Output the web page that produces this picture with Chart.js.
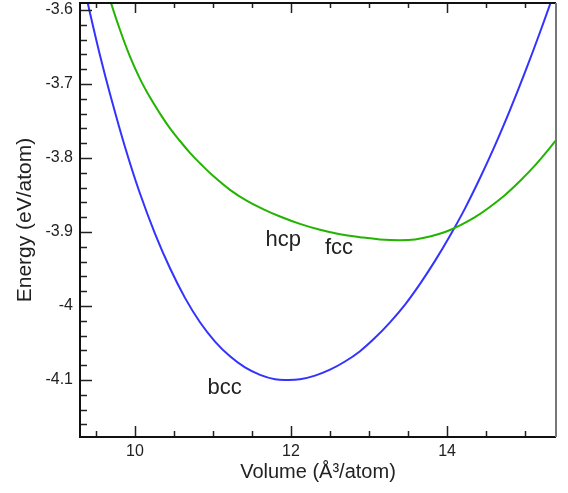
<!DOCTYPE html>
<html>
<head>
<meta charset="utf-8">
<script src="https://cdn.jsdelivr.net/npm/chart.js@4/dist/chart.umd.min.js"></script>
<style>
  html, body { margin: 0; padding: 0; background: #fff; }
  canvas { display: block; }
</style>
</head>
<body>
<canvas id="ev" width="568" height="493"></canvas>
<script>
// ── DATA ─────────────────────────────────────────────────────────

// bcc curve, volume (Å³/atom) vs energy (eV/atom)
const bccVolume = [9.295, 9.423, 9.551, 9.679, 9.872, 10.064, 10.256, 10.449, 10.641, 10.833,
  11.026, 11.218, 11.410, 11.603, 11.795, 11.949, 12.115, 12.308, 12.500, 12.692,
  12.885, 13.077, 13.269, 13.462, 13.654, 13.846, 14.038, 14.231, 14.423, 14.615,
  14.808, 15.000, 15.192, 15.385, 15.513];
const bccEnergy = [-3.543, -3.604, -3.661, -3.713, -3.785, -3.848, -3.902, -3.949, -3.989, -4.022,
  -4.048, -4.068, -4.083, -4.093, -4.099, -4.100, -4.099, -4.094, -4.086, -4.075,
  -4.061, -4.043, -4.022, -3.998, -3.970, -3.939, -3.905, -3.868, -3.827, -3.783,
  -3.735, -3.684, -3.630, -3.573, -3.533];

// hcp / fcc curve (the two lie on top of each other)
const hcpVolume = [9.603, 9.679, 9.808, 9.936, 10.064, 10.192, 10.321, 10.449, 10.577, 10.705,
  10.833, 11.000, 11.218, 11.436, 11.641, 11.859, 12.115, 12.372, 12.628, 12.885,
  13.141, 13.397, 13.590, 13.782, 13.974, 14.167, 14.359, 14.551, 14.744, 14.936,
  15.128, 15.321, 15.513];
const hcpEnergy = [-3.559, -3.586, -3.627, -3.663, -3.693, -3.718, -3.740, -3.760, -3.777, -3.793,
  -3.807, -3.824, -3.843, -3.858, -3.869, -3.879, -3.889, -3.897, -3.903, -3.907,
  -3.910, -3.911, -3.910, -3.906, -3.900, -3.891, -3.880, -3.866, -3.850, -3.831,
  -3.810, -3.786, -3.760];

const volumeTicks = [10, 12, 14];
const energyTicks = [-4.1, -4.0, -3.9, -3.8, -3.7, -3.6];

// phase names written next to the curves
const phaseNames  = ['hcp', 'fcc', 'bcc'];
const phaseVolume = [11.90, 12.615, 11.15];
const phaseEnergy = [-3.911, -3.9216, -4.111];

// ── HELPERS ──────────────────────────────────────────────────────

const FONT = '"Liberation Sans", Arial, Helvetica, sans-serif';
const INK = '#222';

function pts(xs, ys) {
  return xs.map((x, i) => ({ x, y: ys[i] }));
}

function fmtTick(v) {
  return String(+Number(v).toFixed(2));
}

// frame + inward tick marks (majors and minors)
const frameTicks = {
  id: 'frameTicks',
  afterDraw(chart) {
    const { ctx, chartArea: a, scales: { x, y } } = chart;
    ctx.save();
    ctx.lineCap = 'butt';

    ctx.strokeStyle = '#222';
    ctx.lineWidth = 1.5;
    ctx.beginPath();
    for (let v = Math.ceil(x.min * 2) / 2; v <= x.max; v += 0.5) {
      const px = Math.round(x.getPixelForValue(v)) + 0.5;
      const len = volumeTicks.includes(v) ? 11 : 6;
      ctx.moveTo(px, a.bottom); ctx.lineTo(px, a.bottom - len);
      ctx.moveTo(px, a.top);    ctx.lineTo(px, a.top + len - 1);
    }
    for (let i = Math.ceil(y.min * 50); i <= Math.floor(y.max * 50); i++) {
      const py = Math.round(y.getPixelForValue(i / 50)) + 0.5;
      const len = (i % 5 === 0) ? 12 : 7;
      ctx.moveTo(a.left, py); ctx.lineTo(a.left + len, py);
    }
    ctx.stroke();

    // frame
    ctx.lineWidth = 2;
    ctx.strokeStyle = '#111';
    ctx.beginPath();
    ctx.moveTo(a.right, a.top); ctx.lineTo(a.left, a.top);
    ctx.lineTo(a.left, a.bottom); ctx.lineTo(a.right, a.bottom);
    ctx.stroke();
    ctx.strokeStyle = '#777';
    ctx.beginPath();
    ctx.moveTo(a.right, a.top); ctx.lineTo(a.right, a.bottom);
    ctx.stroke();
    ctx.restore();
  }
};

const phaseLabels = {
  id: 'phaseLabels',
  afterDatasetsDraw(chart) {
    const { ctx, scales: { x, y } } = chart;
    ctx.save();
    ctx.font = '22px ' + FONT;
    ctx.fillStyle = INK;
    ctx.textAlign = 'center';
    ctx.textBaseline = 'middle';
    phaseNames.forEach((n, i) => {
      ctx.fillText(n, x.getPixelForValue(phaseVolume[i]), y.getPixelForValue(phaseEnergy[i]));
    });
    ctx.restore();
  }
};

// ── CHART ────────────────────────────────────────────────────────

const line = (data, color) => ({
  data,
  borderColor: color,
  borderWidth: 2,
  pointRadius: 0,
  fill: false,
  tension: 0.4,
});

new Chart(document.getElementById('ev'), {
  type: 'line',
  data: {
    datasets: [
      line(pts(hcpVolume, hcpEnergy), '#22b400'),
      line(pts(bccVolume, bccEnergy), '#3333ff'),
    ],
  },
  options: {
    responsive: false,
    animation: false,
    devicePixelRatio: 1,
    layout: { padding: { left: 0, top: 3, right: 12, bottom: 0 } },
    plugins: { legend: { display: false }, tooltip: { enabled: false } },
    scales: {
      x: {
        type: 'linear',
        min: 9.295,
        max: 15.397,
        afterFit: s => { s.height = 56; s.paddingLeft = 0; s.paddingRight = 0; },
        afterBuildTicks: s => { s.ticks = volumeTicks.map(value => ({ value })); },
        grid: { display: false, drawTicks: false },
        border: { display: false },
        ticks: { color: INK, font: { family: FONT, size: 16 }, padding: 5, callback: fmtTick, maxRotation: 0 },
        title: { display: true, text: 'Volume (Å³/atom)', color: INK, font: { family: FONT, size: 20 }, padding: { top: 0, bottom: 9 } },
      },
      y: {
        type: 'linear',
        min: -4.177,
        max: -3.5905,
        afterFit: s => { s.width = 80; s.paddingTop = 0; s.paddingBottom = 0; },
        afterBuildTicks: s => { s.ticks = energyTicks.map(value => ({ value })); },
        grid: { display: false, drawTicks: false },
        border: { display: false },
        ticks: { color: INK, font: { family: FONT, size: 16 }, padding: 7, callback: fmtTick },
        title: { display: true, text: 'Energy (eV/atom)', color: INK, font: { family: FONT, size: 21 }, padding: { top: 13, bottom: 0 } },
      },
    },
  },
  plugins: [frameTicks, phaseLabels],
});
</script>
</body>
</html>
